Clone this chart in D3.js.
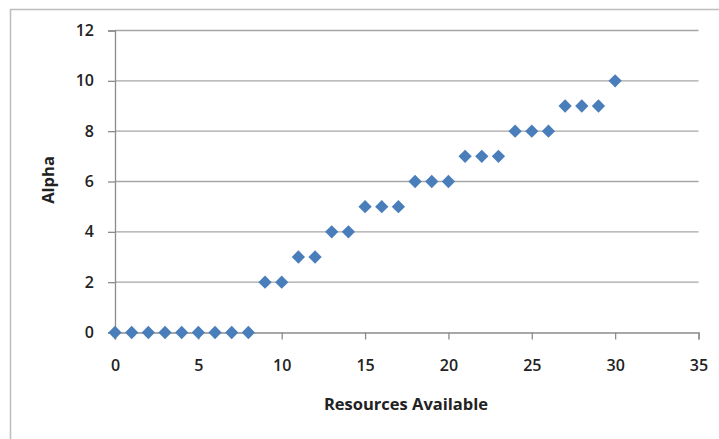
<!DOCTYPE html>
<html><head><meta charset="utf-8">
<script src="https://cdn.jsdelivr.net/npm/d3@7"></script>
<style>body{margin:0;background:#fff}svg{display:block}</style>
</head><body>
<script>
const resources = [0,1,2,3,4,5,6,7,8,9,10,11,12,13,14,15,16,17,18,19,20,21,22,23,24,25,26,27,28,29,30];
const alpha =     [0,0,0,0,0,0,0,0,0,2,2,3,3,4,4,5,5,5,6,6,6,7,7,7,8,8,8,9,9,9,10];
const xTicks = [0,5,10,15,20,25,30,35];
const yTicks = [0,2,4,6,8,10,12];
const xTitle = "Resources Available";
const yTitle = "Alpha";

const W = 719, H = 439;
const svg = d3.select("body").append("svg").attr("width", W).attr("height", H);
svg.append("rect").attr("x",10.5).attr("y",9.5).attr("width",W+20).attr("height",H+20)
  .attr("fill","#fff").attr("stroke","#bdbdbd").attr("stroke-width",1.5);

const x = d3.scaleLinear().domain([0,35]).range([115,698.5]);
const y = d3.scaleLinear().domain([0,12]).range([332.5,30.5]);
const font = "'Open Sans', sans-serif";

// gridlines
svg.append("g").selectAll("line").data(yTicks.filter(d=>d>0)).join("line")
  .attr("x1", x(0)).attr("x2", x(35)).attr("y1", d=>y(d)).attr("y2", d=>y(d))
  .attr("stroke","#a6a6a6").attr("stroke-width",1.3);

// y axis
const yAxis = svg.append("g").attr("transform",`translate(${x(0)},0)`)
  .call(d3.axisLeft(y).tickValues(yTicks).tickSize(7).tickPadding(14).tickFormat(d3.format("d")));
yAxis.select(".domain").attr("stroke","#8c8c8c").attr("stroke-width",1.3);
yAxis.selectAll(".tick line").attr("stroke","#8c8c8c").attr("stroke-width",1.3);
yAxis.selectAll("text").attr("font-family",font).attr("font-size",16).attr("font-weight",600).attr("fill","#222");

// x axis
const xAxis = svg.append("g").attr("transform",`translate(0,${y(0)})`)
  .call(d3.axisBottom(x).tickValues(xTicks).tickSize(7).tickPadding(20).tickFormat(d3.format("d")));
xAxis.select(".domain").attr("stroke","#8c8c8c").attr("stroke-width",1.3);
xAxis.selectAll(".tick line").attr("stroke","#8c8c8c").attr("stroke-width",1.3);
xAxis.selectAll("text").attr("font-family",font).attr("font-size",16).attr("font-weight",600).attr("fill","#222");

// points
const diamond = d3.symbol().type(d3.symbolSquare).size(88);
svg.append("g").selectAll("path").data(resources.map((r,i)=>[r,alpha[i]])).join("path")
  .attr("d", diamond)
  .attr("transform", d=>`translate(${x(d[0])},${y(d[1])}) rotate(45)`)
  .attr("fill","#4a7ebb");

// titles
svg.append("text").attr("x",406).attr("y",410).attr("text-anchor","middle")
  .attr("font-family",font).attr("font-size",16.5).attr("font-weight",700).attr("fill","#222").text(xTitle);
svg.append("text").attr("transform","translate(54,180) rotate(-90)").attr("text-anchor","middle")
  .attr("font-family",font).attr("font-size",16.5).attr("font-weight",700).attr("fill","#222").text(yTitle);
</script>
</body></html>
